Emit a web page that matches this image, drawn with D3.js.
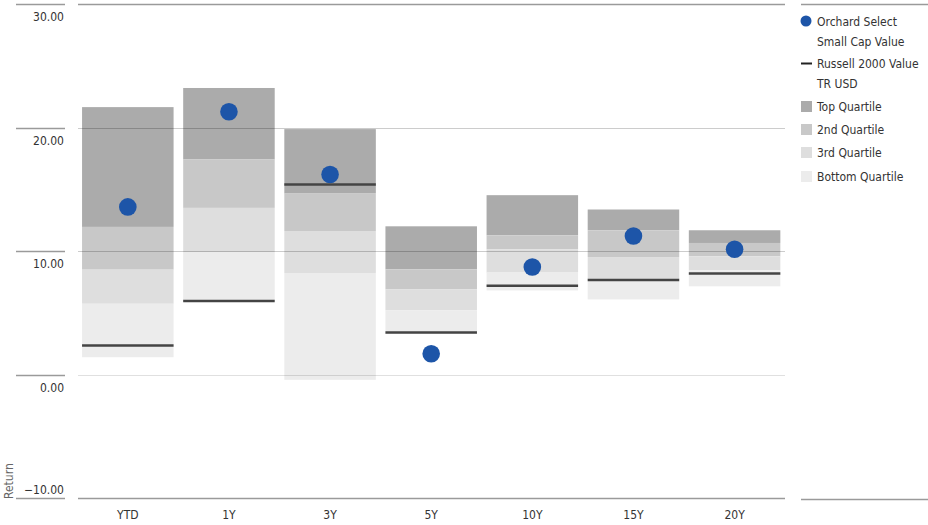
<!DOCTYPE html>
<html><head><meta charset="utf-8">
<script src="https://cdn.jsdelivr.net/npm/d3@7/dist/d3.min.js"></script>
<style>
body{margin:0;background:#fff;}
text{font-family:"Liberation Sans Narrow","DejaVu Sans Condensed","Roboto",sans-serif;font-stretch:condensed;}
</style></head>
<body><svg id="c" width="928" height="525"></svg>
<script>
const categories = ["YTD","1Y","3Y","5Y","10Y","15Y","20Y"];
// quartile boundaries: top, top/2nd, 2nd/3rd, 3rd/bottom, bottom
const qTop    = [21.65, 23.2, 19.87, 12.0, 14.52, 13.36, 11.68];
const q1      = [11.95, 17.41, 14.65, 8.52, 11.27, 11.68, 10.65];
const q2      = [8.49, 13.49, 11.62, 6.89, 10.14, 9.51, 9.57];
const q3      = [5.73, 9.92, 8.22, 5.19, 8.25, 7.70, 8.43];
const qBottom = [1.40, 5.9, -0.43, 3.3, 6.81, 6.08, 7.14];
const fundValues = [13.57, 21.27, 16.2, 1.68, 8.70, 11.22, 10.14];
const benchValues = [2.35, 5.96, 15.38, 3.41, 7.19, 7.65, 8.17];
const yTicks = [30, 20, 10, 0, -10];
const legendLabels = [["Orchard Select","Small Cap Value"],["Russell 2000 Value","TR USD"],["Top Quartile"],["2nd Quartile"],["3rd Quartile"],["Bottom Quartile"]];
const quartileColors = ["#ababab","#c8c8c8","#dedede","#ececec"];
const fundColor = "#1d55a8";
const FS = 12;

const svg = d3.select("#c");
const y = d3.scaleLinear().domain([-10,30]).range([498,4]);
const x = d3.scaleBand().domain(categories).range([77,785.4]).paddingInner(0.095).paddingOuter(0.05);

// bars
const bounds = [qTop,q1,q2,q3,qBottom];
const g = svg.append("g");
categories.forEach((c,i)=>{
  for(let k=0;k<4;k++){
    const a = bounds[k][i], b = bounds[k+1][i];
    g.append("rect").attr("x",x(c)).attr("width",x.bandwidth())
      .attr("y",y(a)).attr("height",y(b)-y(a)).attr("fill",quartileColors[k]);
  }
});

// gridlines (drawn over bars, translucent)
svg.append("g").selectAll("line").data(yTicks).join("line")
  .attr("x1",78).attr("x2",785).attr("y1",d=>Math.round(y(d))+0.5).attr("y2",d=>Math.round(y(d))+0.5)
  .attr("stroke",d=>(d===30||d===-10)?"#9a9a9a":"#000")
  .attr("stroke-opacity",d=>(d===30||d===-10)?1:(d===0?0.12:0.2))
  .attr("stroke-width",d=>(d===30||d===-10)?1.5:1);

// y axis ticks & labels
const ya = svg.append("g");
ya.selectAll("line").data(yTicks).join("line")
  .attr("x1",16).attr("x2",65).attr("y1",d=>Math.round(y(d))+0.5).attr("y2",d=>Math.round(y(d))+0.5)
  .attr("stroke","#9a9a9a").attr("stroke-width",1.5);
ya.selectAll("text").data(yTicks).join("text")
  .attr("x",64).attr("y",d=>y(d)+ (d===-10? -4 : 17)).attr("text-anchor","end")
  .attr("font-size",FS).attr("fill","#333")
  .text(d=>d<0 ? "\u2212"+d3.format(".2f")(-d) : d3.format(".2f")(d));
svg.append("text").attr("transform","translate(13,499) rotate(-90)")
  .attr("font-size",FS).attr("fill","#666").text("Return");

// benchmark lines
svg.append("g").selectAll("line").data(categories).join("line")
  .attr("x1",d=>x(d)).attr("x2",d=>x(d)+x.bandwidth())
  .attr("y1",(d,i)=>y(benchValues[i])).attr("y2",(d,i)=>y(benchValues[i]))
  .attr("stroke","#444").attr("stroke-width",2.5);
// fund dots
svg.append("g").selectAll("circle").data(categories).join("circle")
  .attr("cx",d=>x(d)+x.bandwidth()/2).attr("cy",(d,i)=>y(fundValues[i])).attr("r",8.8)
  .attr("fill",fundColor);

// x labels
svg.append("g").selectAll("text").data(categories).join("text")
  .attr("x",d=>x(d)+x.bandwidth()/2).attr("y",519).attr("text-anchor","middle")
  .attr("font-size",FS).attr("fill","#333").text(d=>d);

// legend
const lg = svg.append("g");
lg.append("line").attr("x1",801).attr("x2",928).attr("y1",4.5).attr("y2",4.5).attr("stroke","#9a9a9a").attr("stroke-width",1.5);
lg.append("line").attr("x1",801).attr("x2",928).attr("y1",499.5).attr("y2",499.5).attr("stroke","#9a9a9a").attr("stroke-width",1.5);
const ly = [26, 68, 111, 134, 157, 181];
legendLabels.forEach((lines,i)=>{
  lines.forEach((t,j)=>{
    lg.append("text").attr("x",817).attr("y",ly[i]+j*20).attr("font-size",FS).attr("fill","#333").text(t);
  });
  if(i===0) lg.append("circle").attr("cx",806).attr("cy",ly[i]-5).attr("r",5.5).attr("fill",fundColor);
  else if(i===1) lg.append("line").attr("x1",801).attr("x2",812).attr("y1",ly[i]-4.5).attr("y2",ly[i]-4.5).attr("stroke","#222").attr("stroke-width",2);
  else lg.append("rect").attr("x",801).attr("y",ly[i]-10).attr("width",11).attr("height",11).attr("fill",quartileColors[i-2]);
});
</script></body></html>
